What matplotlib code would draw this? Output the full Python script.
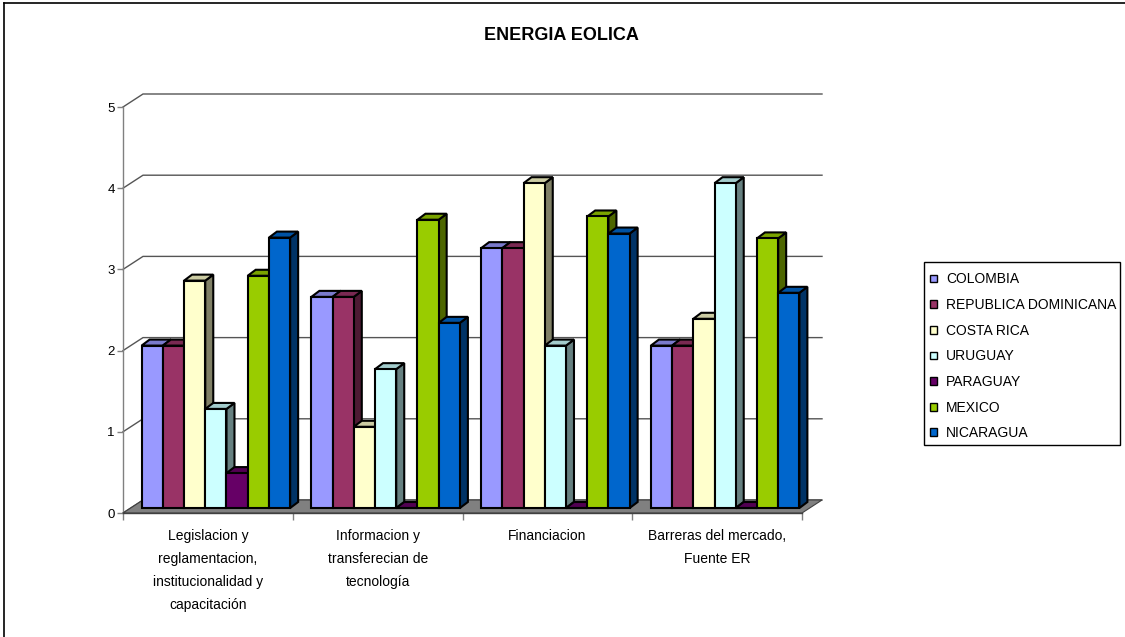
import matplotlib
matplotlib.use("Agg")
import matplotlib.pyplot as plt
from matplotlib.patches import Polygon, Patch, Rectangle
from matplotlib.lines import Line2D
from matplotlib.colors import to_rgb

plt.rcParams["font.family"] = ["Liberation Sans", "DejaVu Sans"]

# ---- data -------------------------------------------------------------
title = "ENERGIA EOLICA"
categories = [
    "Legislacion y\nreglamentacion,\ninstitucionalidad y\ncapacitación",
    "Informacion y\ntransferecian de\ntecnología",
    "Financiacion",
    "Barreras del mercado,\nFuente ER",
]
series_names = ["COLOMBIA", "REPUBLICA DOMINICANA", "COSTA RICA", "URUGUAY",
                "PARAGUAY", "MEXICO", "NICARAGUA"]
colombia = [2.0, 2.6, 3.2, 2.0]
rep_dominicana = [2.0, 2.6, 3.2, 2.0]
costa_rica = [2.8, 1.0, 4.0, 2.33]
uruguay = [1.22, 1.71, 2.0, 4.0]
paraguay = [0.43, 0.0, 0.0, 0.0]
mexico = [2.86, 3.55, 3.59, 3.32]
nicaragua = [3.33, 2.28, 3.38, 2.65]
y_ticks = [0, 1, 2, 3, 4, 5]
series_colors = ["#9999FF", "#993366", "#FFFFCC", "#CCFFFF",
                 "#660066", "#99CC00", "#0066CC"]

series_values = [colombia, rep_dominicana, costa_rica, uruguay,
                 paraguay, mexico, nicaragua]

# ---- figure / axes ------------------------------------------------------
W, H = 1125, 637
fig = plt.figure(figsize=(W / 100, H / 100), dpi=100)
fig.patch.set_facecolor("white")

left_px, right_px, zero_px, top_px = 123, 802, 513, 107
ax = fig.add_axes([left_px / W, (H - zero_px) / H,
                   (right_px - left_px) / W, (zero_px - top_px) / H])
n_cat = len(categories)
y_max = y_ticks[-1]
ax.set_xlim(0, n_cat)
ax.set_ylim(0, y_max)
ax.patch.set_alpha(0)

# pixel -> data unit factors
PX_X = n_cat / (right_px - left_px)
PX_Y = y_max / (zero_px - top_px)

# depth of the back wall, bar plane offset and bar depth (pixels)
wall_dx, wall_dy = 20 * PX_X, 13 * PX_Y
plane_dx, plane_dy = 8 * PX_X, 5 * PX_Y
bar_dx, bar_dy = 8 * PX_X, 6 * PX_Y

grid_color = "#555555"

# back wall gridlines with their diagonal connectors
for v in y_ticks:
    ax.plot([0, wall_dx, n_cat + wall_dx], [v, v + wall_dy, v + wall_dy],
            color=grid_color, lw=1.0, zorder=1, clip_on=False,
            solid_joinstyle="miter")

# floor
floor = Polygon([(0, 0), (n_cat, 0), (n_cat + wall_dx, wall_dy), (wall_dx, wall_dy)],
                closed=True, facecolor="#808080", edgecolor="#404040",
                lw=0.8, zorder=2, clip_on=False)
ax.add_patch(floor)


def shade(c, f):
    r, g, b = to_rgb(c)
    return (r * f, g * f, b * f)


n_ser = len(series_values)
bar_w = 1.0 / (n_ser + 1)
gap = bar_w / 2
edge_lw = 1.5

for j, (vals, col) in enumerate(zip(series_values, series_colors)):
    z = 3 + j * 0.1
    xs = [i + plane_dx + gap + j * bar_w for i in range(n_cat)]
    for x0, v in zip(xs, vals):
        y0 = plane_dy
        top = Polygon([(x0, y0 + v), (x0 + bar_w, y0 + v),
                       (x0 + bar_w + bar_dx, y0 + v + bar_dy),
                       (x0 + bar_dx, y0 + v + bar_dy)],
                      closed=True, facecolor=shade(col, 0.8), edgecolor="black",
                      lw=edge_lw, zorder=z, clip_on=False, joinstyle="miter")
        side = Polygon([(x0 + bar_w, y0), (x0 + bar_w + bar_dx, y0 + bar_dy),
                        (x0 + bar_w + bar_dx, y0 + v + bar_dy), (x0 + bar_w, y0 + v)],
                       closed=True, facecolor=shade(col, 0.5), edgecolor="black",
                       lw=edge_lw, zorder=z, clip_on=False, joinstyle="miter")
        ax.add_patch(side)
        ax.add_patch(top)
    ax.bar(xs, vals, width=bar_w, bottom=plane_dy, align="edge",
           color=col, edgecolor="black", linewidth=edge_lw,
           zorder=z + 0.05, clip_on=False)

# axes lines and ticks
for s in ("top", "right"):
    ax.spines[s].set_visible(False)
ax.spines["left"].set_color("#808080")
ax.spines["left"].set_linewidth(1.0)
ax.spines["bottom"].set_color("#404040")
ax.spines["bottom"].set_linewidth(1.0)
ax.spines["left"].set_zorder(1.5)
ax.spines["bottom"].set_zorder(2.5)

ax.set_yticks(y_ticks)
ax.set_yticklabels([str(t) for t in y_ticks])
ax.tick_params(axis="y", direction="out", length=4, width=1, color="#808080",
               labelsize=9.5, pad=2, labelcolor="black")

ax.set_xticks(range(n_cat + 1))
ax.set_xticklabels([""] * (n_cat + 1))
ax.tick_params(axis="x", which="major", direction="out", length=5, width=1,
               color="#808080")
ax.set_xticks([i + 0.5 for i in range(n_cat)], minor=True)
ax.set_xticklabels(categories, minor=True)
ax.tick_params(axis="x", which="minor", length=0, pad=11.5, labelsize=10)
for lab in ax.get_xticklabels(minor=True):
    lab.set_linespacing(1.82)
    lab.set_verticalalignment("top")
    lab.set_horizontalalignment("center")

# title
fig.text(561 / W, 1 - 35 / H, title, ha="center", va="center",
         fontsize=13, fontweight="bold")

# legend box
fig.add_artist(Rectangle((924 / W, 1 - 445 / H), (1120 - 924) / W, (445 - 262) / H,
                         transform=fig.transFigure, facecolor="white",
                         edgecolor="black", lw=1.0, zorder=5))
handles = [Patch(facecolor=c, edgecolor="black", lw=1.0) for c in series_colors]
leg = fig.legend(handles, series_names, loc="upper left",
                 bbox_to_anchor=(929 / W, 1 - 271 / H), borderaxespad=0,
                 frameon=False, fontsize=10,
                 handlelength=0.5, handleheight=0.5, handletextpad=0.65,
                 labelspacing=0.84, borderpad=0.1)
leg.set_zorder(6)

# chart area border (left and top edges)
fig.add_artist(Line2D([4 / W, 4 / W], [0, 1 - 3 / H], color="black", lw=1.2))
fig.add_artist(Line2D([4 / W, 1], [1 - 3 / H, 1 - 3 / H], color="black", lw=1.2))

fig.savefig("out.png", dpi=100)
